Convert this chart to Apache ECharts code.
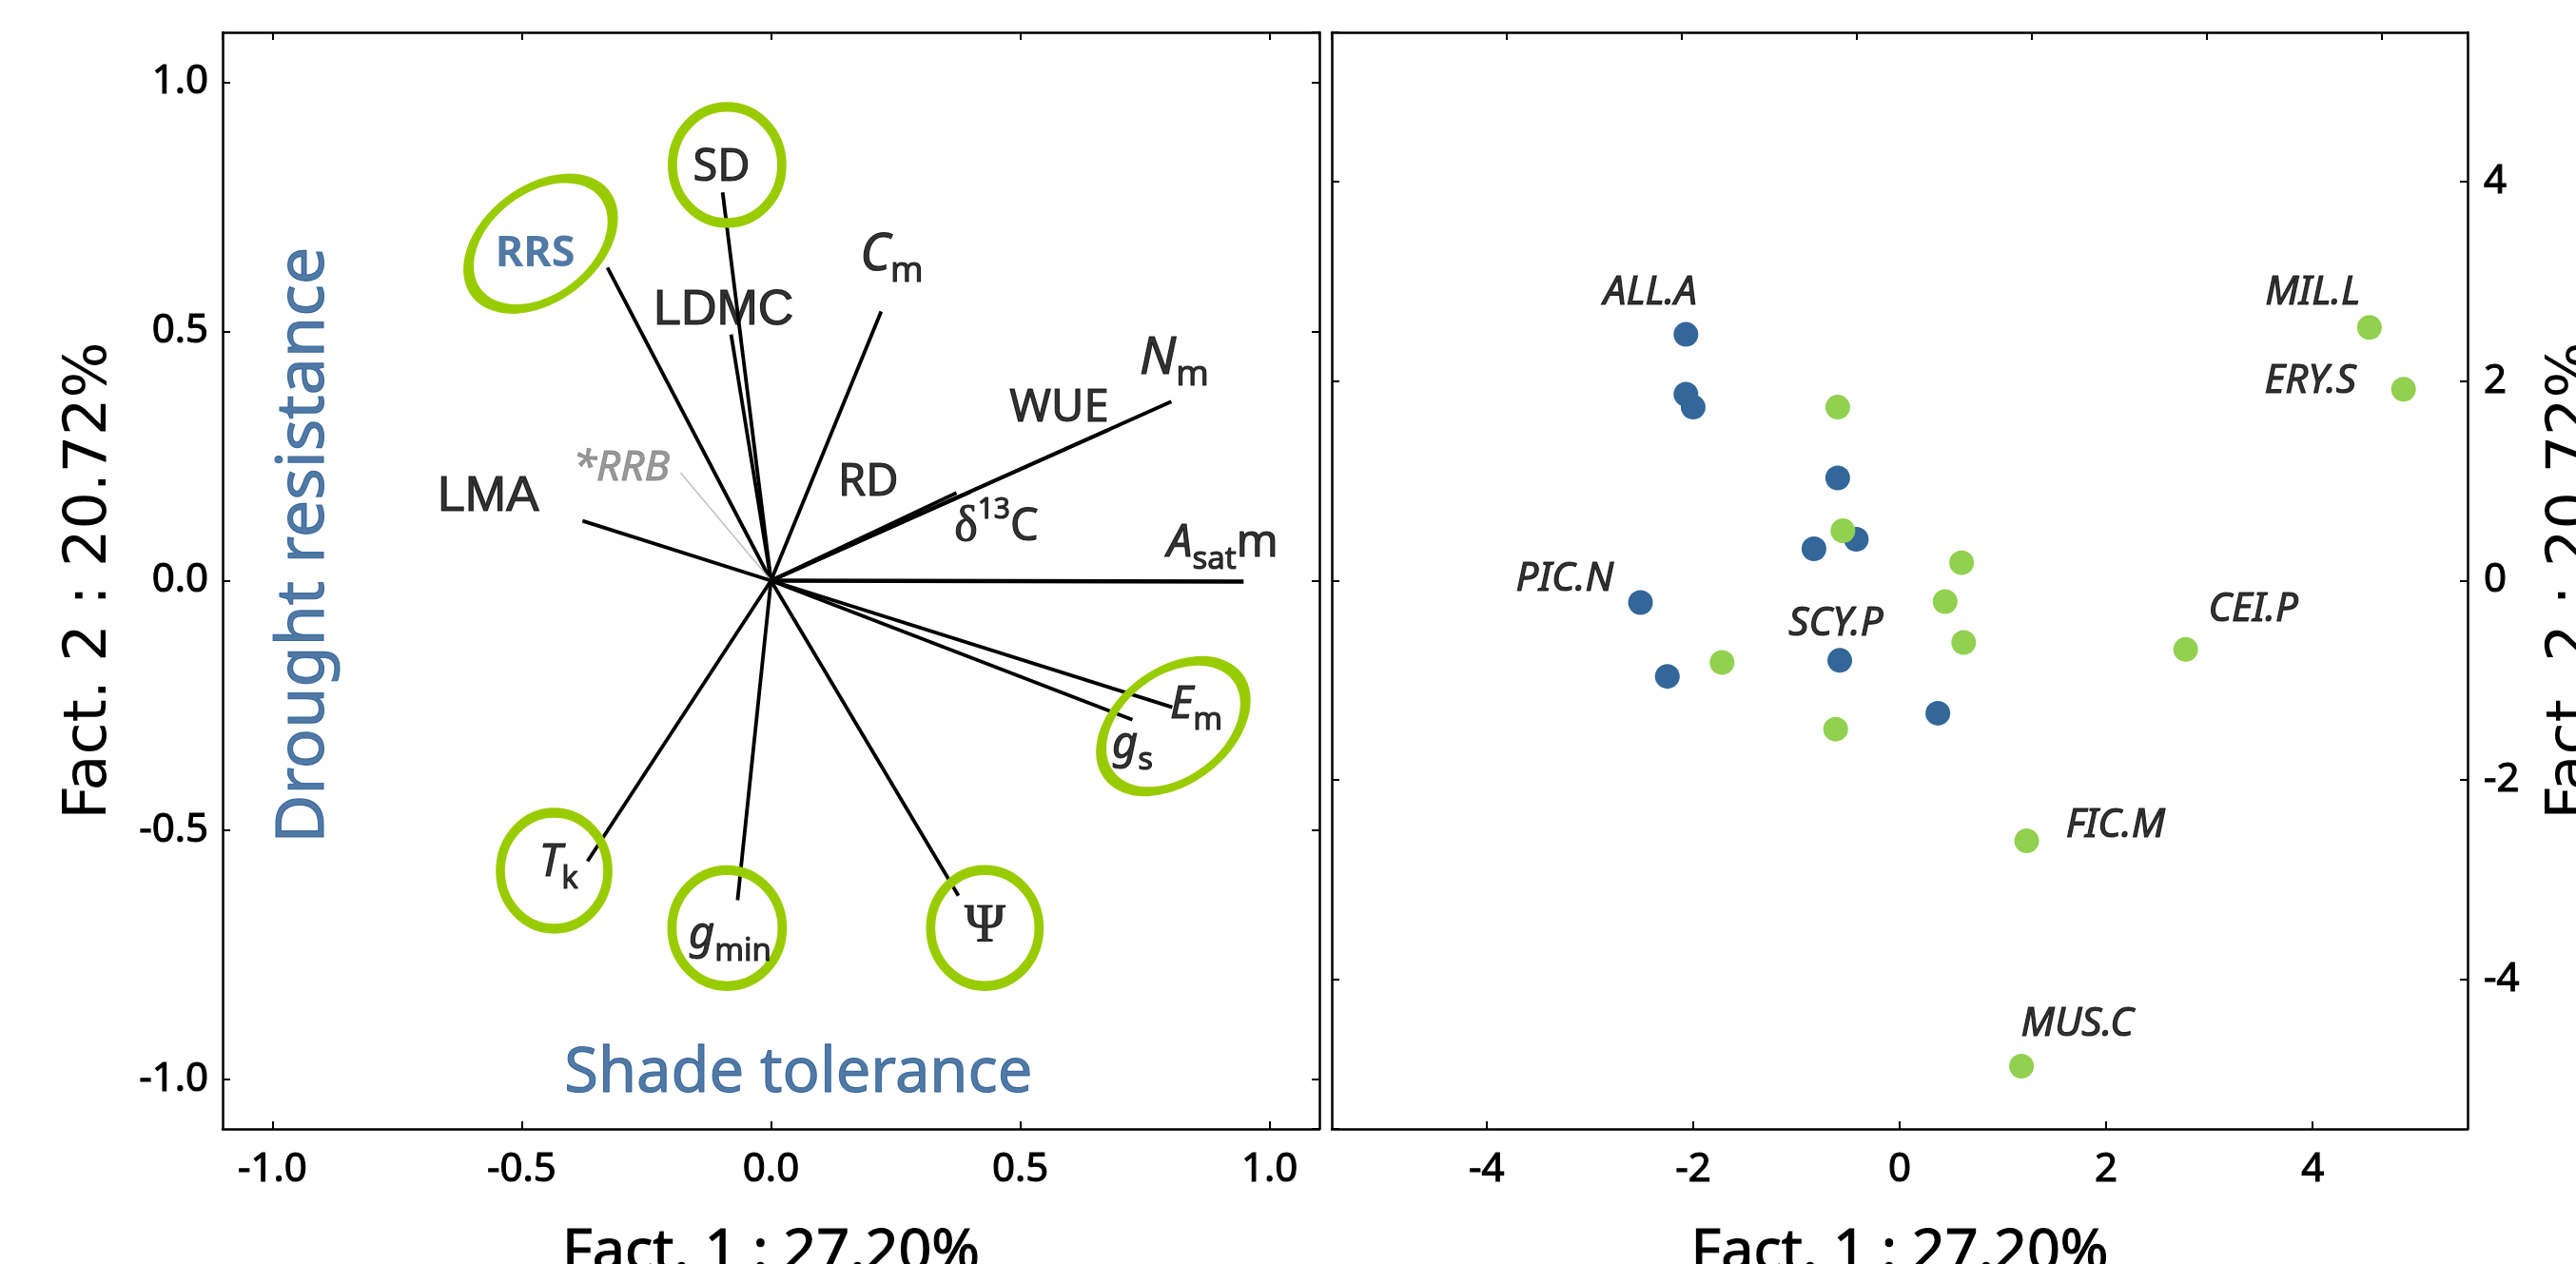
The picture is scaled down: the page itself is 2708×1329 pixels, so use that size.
<!DOCTYPE html>
<html><head><meta charset="utf-8">
<script src="https://cdn.jsdelivr.net/npm/echarts@6/dist/echarts.min.js"></script>
<style>html,body{margin:0;padding:0;background:#fff;}#c{width:2708px;height:1329px;}</style>
</head><body><div id="c"></div>
<script>
// ---------- Left panel: trait loadings (PCA variables) ----------
const traitNames = ['RRS','SD','LDMC','Cm','RRB','LMA','RD','d13C','WUE','Nm','Asatm','Em','gs','Psi','gmin','Tk'];
const traitX = [-0.328,-0.097,-0.080,0.221,-0.181,-0.378,0.372,0.400,0.678,0.803,0.948,0.805,0.725,0.376,-0.067,-0.368];
const traitY = [0.628,0.779,0.494,0.540,0.216,0.120,0.176,0.178,0.303,0.359,-0.002,-0.254,-0.279,-0.632,-0.641,-0.563];
// where each trait name is written (data units)
const traitLabelX = [-0.473,-0.099,-0.095,0.242,-0.300,-0.567,0.195,0.452,0.578,0.809,0.906,0.853,0.725,0.429,-0.082,-0.426];
const traitLabelY = [0.656,0.828,0.542,0.653,0.225,0.168,0.197,0.107,0.345,0.445,0.074,-0.250,-0.330,-0.695,-0.712,-0.567];
// highlighted trait groups (green rings), centres in data units
const ringNames = ['RRS','SD','Em+gs','Tk','gmin','Psi'];
const ringX = [-0.462,-0.088,0.807,-0.435,-0.088,0.429];
const ringY = [0.676,0.834,-0.292,-0.582,-0.697,-0.697];
// annotations
const annoText = ['Drought resistance','Shade tolerance'];
const annoX = [-0.935,0.055];
const annoY = [0.071,-0.990];

// ---------- Right panel: species scores ----------
const shadeX = [-2.07,-2.07,-2.00,-0.60,-0.42,-0.83,-2.51,-2.25,-0.58,0.37];
const shadeY = [2.47,1.87,1.74,1.03,0.415,0.32,-0.22,-0.96,-0.80,-1.33];
const lightX = [-0.60,-0.55,0.60,0.44,0.62,-1.72,-0.62,4.55,4.88,2.77,1.23,1.18];
const lightY = [1.74,0.50,0.18,-0.21,-0.62,-0.82,-1.49,2.54,1.92,-0.69,-2.61,-4.87];
const speciesNames = ['ALL.A','PIC.N','SCY.P','MIL.L','ERY.S','CEI.P','FIC.M','MUS.C'];
const speciesLabelX = [-2.415,-3.244,-0.618,4.00,3.978,3.424,2.09,1.72];
const speciesLabelY = [2.883,0.010,-0.439,2.883,1.999,-0.296,-2.454,-4.454];

const xTitle = 'Fact. 1 : 27.20%';
const yTitle = 'Fact. 2 : 20.72%';

// ---------- styles ----------
const BLUE = '#336699', TXT_BLUE = '#245890', GREEN_PT = '#92D050', RING = '#99CC00';
const thick = c => ({textBorderColor:c, textBorderWidth:1.1});
const labelMarkup = {
  RRS:'{rrs|RRS}', SD:'{n|SD}', LDMC:'{arial|LDMC}', Cm:'{itL|C}{subL|m}', RRB:'{rrb|*RRB}',
  LMA:'{arial|LMA}', RD:'{n|RD}', d13C:'{greek|δ}{sup|13}{n|C}', WUE:'{n|WUE}', Nm:'{itL|N}{subL|m}',
  Asatm:'{it|A}{sub|sat}{n|m}', Em:'{it|E}{sub|m}', gs:'{it|g}{sub|s}', Psi:'{psi|Ψ}',
  gmin:'{it|g}{sub|min}', Tk:'{it|T}{sub|k}'
};
const K = thick('#000');
const rich = {
  n:{fontFamily:'Noto Sans',fontSize:47,lineHeight:66,color:'#000',...K},
  arial:{fontFamily:'Liberation Sans',fontSize:52,lineHeight:66,color:'#000',...K},
  rrs:{fontFamily:'Noto Sans',fontWeight:'bold',fontSize:45,lineHeight:66,color:TXT_BLUE},
  rrb:{fontFamily:'Noto Sans',fontStyle:'italic',fontSize:44,lineHeight:66,color:'#808080',...thick('#808080')},
  it:{fontFamily:'Noto Sans',fontStyle:'italic',fontSize:47,lineHeight:66,color:'#000',...K},
  itL:{fontFamily:'Noto Sans',fontStyle:'italic',fontSize:54,lineHeight:72,color:'#000',...K},
  sub:{fontFamily:'Noto Sans',fontSize:33,lineHeight:32,verticalAlign:'bottom',color:'#000',...K},
  subL:{fontFamily:'Noto Sans',fontSize:37,lineHeight:34,verticalAlign:'bottom',color:'#000',...K},
  sup:{fontFamily:'Noto Sans',fontSize:30,lineHeight:30,verticalAlign:'top',color:'#000',...K},
  greek:{fontFamily:'Liberation Serif',fontSize:52,lineHeight:66,color:'#000',...K},
  psi:{fontFamily:'Liberation Serif',fontSize:58,lineHeight:66,color:'#000',...K}
};
const ringSize = {RRS:[170,114],SD:[115,122],'Em+gs':[170,114],Tk:[113,122],gmin:[116,122],Psi:[114,122]};
const ringRot = {RRS:37.5,'Em+gs':37.5};

const tickFont = {fontFamily:'Noto Sans',fontSize:42,color:'#000',...thick('#000')};
const lineSty = {lineStyle:{color:'#000',width:2.5},onZero:false};
const tickIn = {inside:true,length:8,lineStyle:{color:'#000',width:2}};
const fmt1 = v => v.toFixed(1);

function ax(o){
  return Object.assign({type:'value',axisLine:{show:true,...lineSty},axisTick:tickIn,splitLine:{show:false},
    axisLabel:{show:false}}, o);
}
const xName = {fontFamily:'Noto Sans',fontSize:61,color:'#000',...thick('#000')};
const yName = {fontFamily:'DejaVu Sans',fontSize:62,color:'#000'};

const chart = echarts.init(document.getElementById('c'));
chart.setOption({
  animation:false,
  backgroundColor:'#fff',
  grid:[{left:234,top:34,width:1153,height:1153,outerBoundsMode:'none',containLabel:false},
        {left:1400,top:34,width:1194,height:1153,outerBoundsMode:'none',containLabel:false}],
  xAxis:[
    ax({gridIndex:0,position:'bottom',min:-1.1,max:1.1,
        axisLabel:{show:true,...tickFont,margin:22,formatter:fmt1,showMinLabel:false,showMaxLabel:false},
        name:xTitle,nameLocation:'middle',nameGap:100,nameTextStyle:xName}),
    ax({gridIndex:0,position:'top',min:-1.1,max:1.1}),
    ax({gridIndex:1,position:'bottom',min:-5.5,max:5.5,
        axisLabel:{show:true,...tickFont,margin:22,showMinLabel:false,showMaxLabel:false},
        name:xTitle,nameLocation:'middle',nameGap:100,nameTextStyle:xName}),
    ax({gridIndex:1,position:'top',min:0,max:6.489,interval:1})
  ],
  yAxis:[
    ax({gridIndex:0,position:'left',min:-1.1,max:1.1,
        axisLabel:{show:true,...tickFont,margin:15,formatter:fmt1,showMinLabel:false,showMaxLabel:false},
        name:yTitle,nameLocation:'middle',nameGap:108,nameTextStyle:yName}),
    ax({gridIndex:0,position:'right',min:-1.1,max:1.1}),
    ax({gridIndex:1,position:'left',min:-5.5,max:5.5}),
    ax({gridIndex:1,position:'right',min:-5.5,max:5.5,
        axisLabel:{show:true,...tickFont,margin:17,showMinLabel:false,showMaxLabel:false},
        name:yTitle,nameLocation:'middle',nameGap:80,nameTextStyle:yName})
  ],
  series:[
    { // trait vectors
      type:'lines',coordinateSystem:'cartesian2d',xAxisIndex:0,yAxisIndex:0,silent:true,z:2,
      lineStyle:{color:'#000',width:4,opacity:1},
      data:traitNames.map((n,i)=>({coords:[[0,0],[traitX[i],traitY[i]]],
        lineStyle:n==='RRB'?{color:'#c0c0c0',width:1.5}:{color:'#000',width:n==='Asatm'?4.5:3.8}}))
    },
    { // highlight rings
      type:'scatter',xAxisIndex:0,yAxisIndex:0,silent:true,z:3,
      itemStyle:{color:'rgba(0,0,0,0)',borderColor:RING,borderWidth:10,opacity:1},
      data:ringNames.map((n,i)=>({value:[ringX[i],ringY[i]],symbolSize:ringSize[n],symbolRotate:ringRot[n]||0}))
    },
    { // trait labels
      type:'scatter',xAxisIndex:0,yAxisIndex:0,silent:true,z:4,symbolSize:1,
      itemStyle:{color:'rgba(0,0,0,0)'},
      label:{show:true,position:'inside',color:'#000',formatter:p=>labelMarkup[p.name],rich:rich},
      data:traitNames.map((n,i)=>({name:n,value:[traitLabelX[i],traitLabelY[i]]}))
    },
    { // annotations
      type:'scatter',xAxisIndex:0,yAxisIndex:0,silent:true,z:4,symbolSize:1,
      itemStyle:{color:'rgba(0,0,0,0)'},
      data:annoText.map((t,i)=>({name:t,value:[annoX[i],annoY[i]],
        label:{show:true,position:'inside',formatter:t,color:TXT_BLUE,fontFamily:'Noto Sans',
          fontSize:i===0?70:65,rotate:i===0?90:0,...thick(TXT_BLUE)}}))
    },
    { // shade-tolerant species (blue)
      type:'scatter',xAxisIndex:2,yAxisIndex:2,silent:true,z:3,symbolSize:26,
      itemStyle:{color:BLUE,opacity:1},
      data:shadeX.map((x,i)=>[x,shadeY[i]])
    },
    { // light-demanding species (green)
      type:'scatter',xAxisIndex:2,yAxisIndex:2,silent:true,z:4,symbolSize:26,
      itemStyle:{color:GREEN_PT,opacity:1},
      data:lightX.map((x,i)=>[x,lightY[i]])
    },
    { // species labels
      type:'scatter',xAxisIndex:2,yAxisIndex:2,silent:true,z:5,symbolSize:1,
      itemStyle:{color:'rgba(0,0,0,0)'},
      label:{show:true,position:'inside',formatter:'{b}',color:'#000',fontFamily:'Noto Sans',fontStyle:'italic',fontSize:42,...thick('#000')},
      data:speciesNames.map((n,i)=>({name:n,value:[speciesLabelX[i],speciesLabelY[i]]}))
    }
  ]
});
</script></body></html>
